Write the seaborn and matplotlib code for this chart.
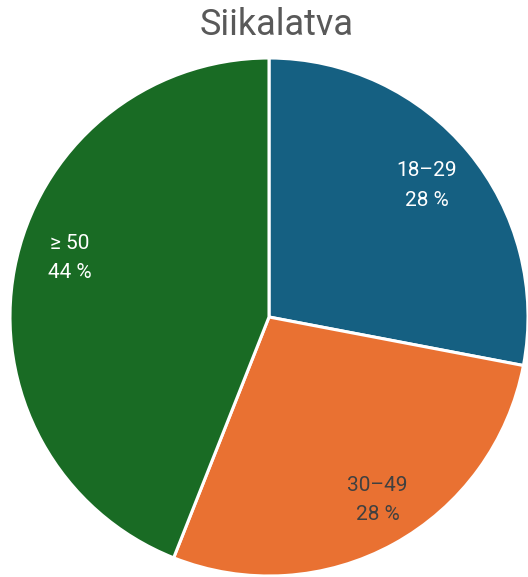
import matplotlib
matplotlib.use("Agg")
import matplotlib.pyplot as plt
import seaborn as sns

title = "Siikalatva"
categories = ["18–29", "30–49", "≥ 50"]
shares = [28, 28, 44]
colors = ["#156082", "#E97132", "#196B24"]
label_colors = ["white", "#404040", "white"]

sns.set_theme(style="white")
plt.rcParams["font.family"] = ["Roboto", "DejaVu Sans"]

W, H = 528, 577
fig = plt.figure(figsize=(W / 100, H / 100), dpi=100)
cx, cy, r = 269, 317, 259
ax = fig.add_axes([(cx - r) / W, (H - cy - r) / H, 2 * r / W, 2 * r / H])

labels = [f"{c}\n{v} %" for c, v in zip(categories, shares)]
wedges, texts = ax.pie(
    shares,
    labels=labels,
    colors=colors,
    startangle=90,
    counterclock=False,
    labeldistance=0.79,
    wedgeprops=dict(edgecolor="white", linewidth=2.2),
    textprops=dict(fontsize=15, linespacing=1.68),
)
# small nudges of the label blocks (in pixels: right, up)
nudges = [(0, 1), (10, -4), (2, 21)]
for t, c, (dx, dy) in zip(texts, label_colors, nudges):
    t.set_color(c)
    t.set_horizontalalignment("center")
    t.set_verticalalignment("center")
    x, y = t.get_position()
    t.set_position((x + dx / r, y + dy / r))
for w in wedges:
    w.set_clip_on(False)

ax.set_xlim(-1, 1)
ax.set_ylim(-1, 1)
ax.set_aspect("equal")
ax.axis("off")

fig.text(277 / W, 1 - 35 / H, title, ha="center", va="baseline",
         fontsize=26, color="#595959")

fig.savefig("out.png", dpi=100)
